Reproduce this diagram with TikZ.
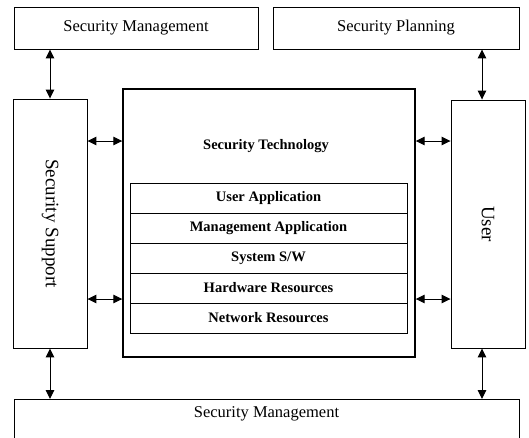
\documentclass[tikz,border=0pt]{standalone}
\usepackage{fontspec}
\setmainfont{Liberation Serif}
\usetikzlibrary{arrows.meta}
\begin{document}
\begin{tikzpicture}[x=1pt,y=-1pt,
  box/.style={draw=black, line width=0.9pt, inner sep=0pt, font=\fontsize{16.5}{18}\selectfont},
  sidebox/.style={draw=black, line width=0.9pt, inner sep=0pt, minimum width=74pt, font=\fontsize{19}{21}\selectfont},
  layer/.style={draw=black, line width=0.9pt, inner sep=0pt, minimum width=277pt, minimum height=30pt, font=\fontsize{14.5}{16}\selectfont\bfseries},
  conn/.style={line width=1pt, {Triangle[length=9pt,width=8.5pt]}-{Triangle[length=9pt,width=8.5pt]}}
]
\clip (0,0) rectangle (529,437);
\fill[white] (0,0) rectangle (529,437);

\node[box, minimum width=244pt, minimum height=42pt] (smtop) at (136,28) {Security Management};
\node[box, minimum width=246pt, minimum height=42pt] (splan) at (396,28) {Security Planning};

\node[sidebox, minimum height=249pt] (ssup) at (50,223.5) {};
\node[rotate=-90, font=\fontsize{19}{21}\selectfont] (ssuptxt) at (ssup.center) {Security Support};
\node[sidebox, minimum height=248pt] (user) at (488,224) {};
\node[rotate=-90, font=\fontsize{19}{21}\selectfont] (usertxt) at (user.center) {User};

\node[draw=black, line width=1.4pt, inner sep=0pt, minimum width=292pt, minimum height=268pt] (tech) at (269,223) {};
\node[font=\fontsize{14.5}{16}\selectfont\bfseries] (techtxt) at (266,146) {Security Technology};

\node[layer] (r1) at (268.5,198) {User Application};
\node[layer] (r2) at (268.5,228) {Management Application};
\node[layer] (r3) at (268.5,258) {System S/W};
\node[layer] (r4) at (268.5,288) {Hardware Resources};
\node[layer] (r5) at (268.5,318) {Network Resources};

\node[box, anchor=north, minimum width=505pt, minimum height=60pt] (smbot) at (266.5,399) {};
\node[font=\fontsize{16.5}{18}\selectfont] (smbottxt) at ([yshift=-15pt]smbot.north) {Security Management};

% vertical connectors
\draw[conn] (ssup.north |- smtop.south) -- (ssup.north);
\draw[conn] ([xshift=-6pt]user.north |- splan.south) -- ([xshift=-6pt]user.north);
\draw[conn] (ssup.south) -- (ssup.south |- smbot.north);
\draw[conn] ([xshift=-6pt]user.south) -- ([xshift=-6pt]user.south |- smbot.north);

% horizontal connectors
\draw[conn] ([yshift=82.5pt]ssup.east) -- ([yshift=82.5pt]ssup.east -| tech.west);
\draw[conn] ([yshift=-75.5pt]ssup.east) -- ([yshift=-75.5pt]ssup.east -| tech.west);
\draw[conn] ([yshift=83pt]user.west -| tech.east) -- ([yshift=83pt]user.west);
\draw[conn] ([yshift=-75pt]user.west -| tech.east) -- ([yshift=-75pt]user.west);
\end{tikzpicture}
\end{document}
